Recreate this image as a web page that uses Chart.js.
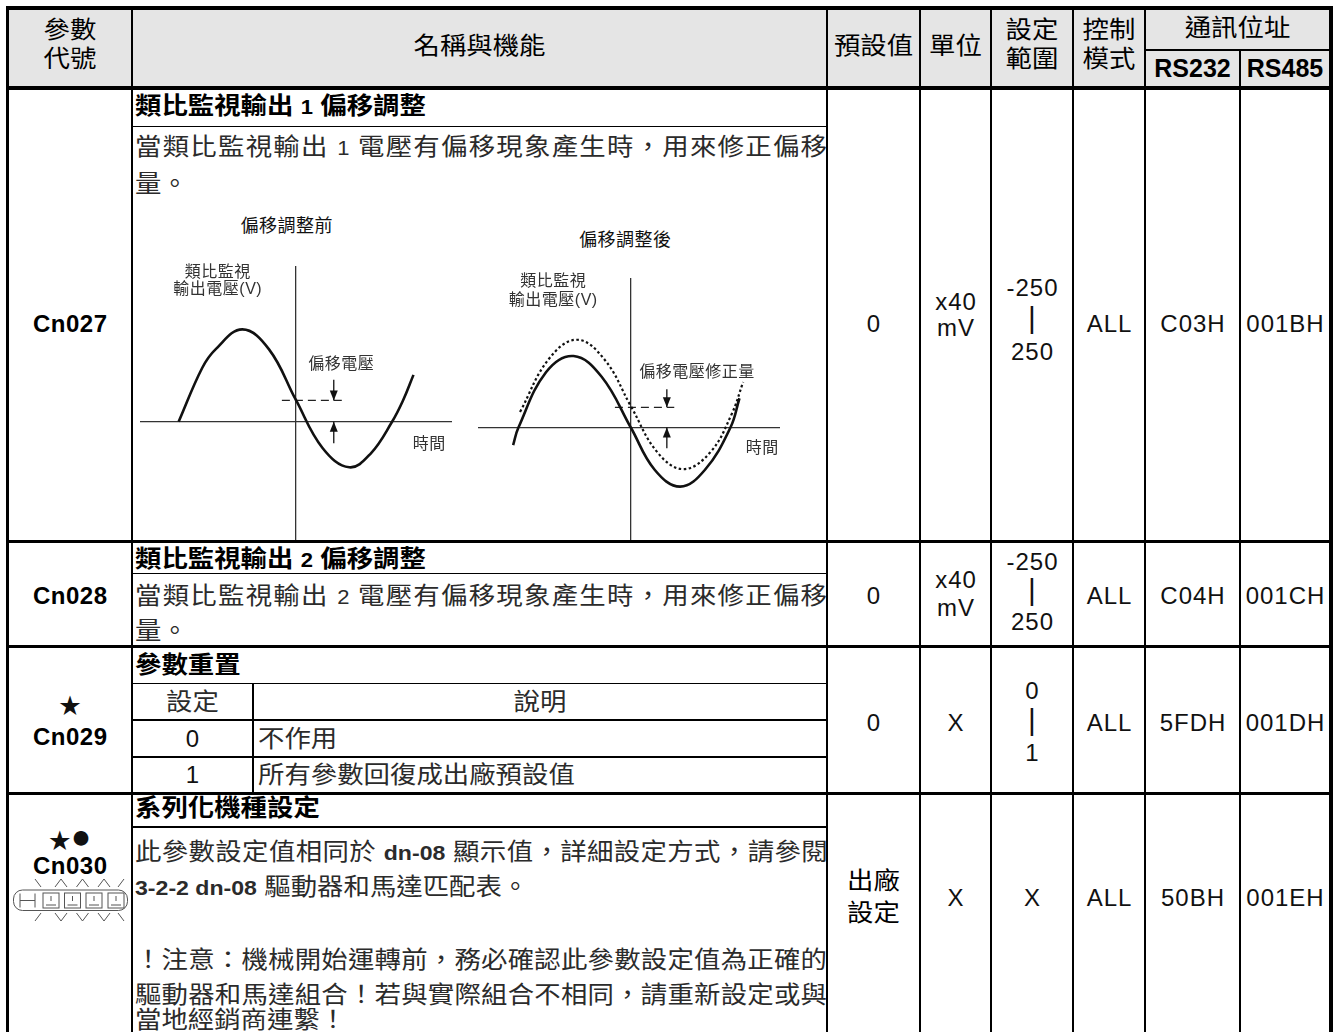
<!DOCTYPE html>
<html lang="zh-Hant">
<head>
<meta charset="UTF-8">
<title>Cn027 ~ Cn030 參數說明</title>
<script src="https://cdn.jsdelivr.net/npm/chart.js@4.4.1/dist/chart.umd.min.js"></script>
<style>
  body { margin: 0; background: #fff; }
  #page {
    position: relative;
    width: 1343px;
    height: 1032px;
    overflow: hidden;
    font-family: "Liberation Sans", "Noto Sans CJK TC", sans-serif;
    color: #111;
  }
  .head-bg { position: absolute; left: 9px; top: 10px; width: 1320px; height: 76px; background: #e5e5e5; }
  .ln { position: absolute; background: #000; z-index: 3; }
  .tx { position: absolute; white-space: nowrap; font-size: 24px; z-index: 2; box-sizing: border-box; }
  .hd { color: #000; }
  .rs { font-weight: bold; font-size: 25px; color: #000; }
  .num { letter-spacing: 1px; padding-left: 1px; }
  .code { font-weight: bold; letter-spacing: 0.5px; padding-left: 0.5px; color: #000; }
  .body { color: #2b2b2b; }
  .ttl { font-weight: bold; color: #000; }
  .jst { text-align-last: justify; }
  .tight { letter-spacing: -0.6px; }
  .la { font-size: 20px; letter-spacing: 0; }
  .lb { font-size: 21px; letter-spacing: 0; }
  .bar { font-size: 30px; }
  .cap { font-size: 18px; color: #111; letter-spacing: 0.5px; padding-left: 0.5px; }
  .sm { font-size: 16px; color: #333; letter-spacing: 0.5px; padding-left: 0.5px; }
  .star { font-size: 22px; }
  .dot { font-size: 34px; }
  canvas { position: absolute; z-index: 1; }
  svg { position: absolute; z-index: 2; }
</style>
</head>
<body>
<div id="page">
  <div class="head-bg"></div>
  <canvas id="before" width="312" height="275" style="left:140px;top:266px"></canvas>
  <canvas id="after" width="302" height="263" style="left:478px;top:278px"></canvas>
  <svg width="120" height="50" style="left:12px;top:875px" fill="none" stroke="#555" stroke-width="1">
    <rect x="1.5" y="15" width="114" height="20.5" rx="9"/>
    <path d="M8 18.5v14M23 18.5v14M8 25.5h15"/>
    <rect x="31" y="18" width="16" height="15"/><path d="M34 30h10M39 21v5"/>
    <rect x="52.5" y="18" width="16" height="15"/><path d="M55.5 30h10M60.5 21v5"/>
    <rect x="74" y="18" width="16" height="15"/><path d="M77 30h10M82 21v5"/>
    <rect x="96" y="18" width="16" height="15"/><path d="M99 30h10M104 21v5"/>
    <path d="M23 4l6 8M43 12l6-8l6 8M64.5 12l6-8l6 8M86 12l6-8l6 8M106 12l6-8"/>
    <path d="M23 46l6-8M43 38l6 8l6-8M64.5 38l6 8l6-8M86 38l6 8l6-8M106 38l6 8"/>
  </svg>
</div>
<script>
// 偏移調整前：時間（四分之一週期）與電壓（振幅）
const beforeTime = [-2.19, -1.75, -1.5, -1.0, -0.5, 0, 0.5, 1.0, 1.4, 1.8, 2.0, 2.2];
const beforeVolt = [0, 0.78, 1.05, 1.34, 1.05, 0.32, -0.38, -0.66, -0.46, 0, 0.3, 0.68];
const beforeOffsetTime = [-0.26, 0.86];
const beforeOffsetVolt = [0.31, 0.31];
const beforeArrowTime = 0.71;
const beforeArrowDown = [0.61, 0.31];
const beforeArrowUp = [-0.31, 0];

// 偏移調整後：實線為修正後，虛線為修正前
const afterTime = [-2.22, -2.12, -1.6, -1.08, -0.55, 0, 0.45, 0.93, 1.4, 1.88, 2.05];
const afterVolt = [-0.27, 0, 0.85, 1.10, 0.78, 0, -0.65, -0.91, -0.65, 0, 0.45];
const rawTime = [-2.09, -1.55, -1.02, -0.5, 0, 0.5, 0.99, 1.5, 1.9, 2.12];
const rawVolt = [0.24, 1.05, 1.35, 1.05, 0.33, -0.38, -0.64, -0.38, 0.2, 0.70];
const afterOffsetTime = [-0.3, 0.82];
const afterOffsetVolt = [0.31, 0.31];
const afterArrowTime = 0.68;
const afterArrowDown = [0.59, 0.31];
const afterArrowUp = [-0.32, 0];

// 表格內容
const codes = ['Cn027', 'Cn028', 'Cn029', 'Cn030'];
const defVals = [['0'], ['0'], ['0'], ['出廠', '設定']];
const units = [['x40', 'mV'], ['x40', 'mV'], ['X'], ['X']];
const ranges = [['-250', '|', '250'], ['-250', '|', '250'], ['0', '|', '1'], ['X']];
const modes = ['ALL', 'ALL', 'ALL', 'ALL'];
const rs232 = ['C03H', 'C04H', '5FDH', '50BH'];
const rs485 = ['001BH', '001CH', '001DH', '001EH'];

const page = document.getElementById('page');
const colL = [9, 133, 828, 921, 992, 1074, 1146, 1241];
const colR = [131, 826, 919, 990, 1072, 1144, 1239, 1329];
const rowMid = [324, 596, 723, 898];
const unitMid = [315, 594, 723, 898], unitGap = [26, 28, 0, 0];
const rangeMid = [320, 592, 722, 898], rangeGap = [32, 30, 31, 0];
const SX = 1.1;   // 原圖文字略為橫向拉寬

function line(x, y, w, h) {
  const d = document.createElement('div');
  d.className = 'ln';
  d.style.cssText = `left:${x}px;top:${y}px;width:${w}px;height:${h}px`;
  page.appendChild(d);
}
function put(html, left, cy, width, cls, align, h, sx) {
  h = h || 30;
  align = align || 'center';
  sx = sx || 1;
  const d = document.createElement('div');
  d.className = 'tx ' + (cls || '');
  const w = align === 'center' ? width : width / sx;
  d.style.cssText = `left:${left}px;top:${cy - h / 2}px;width:${w}px;height:${h}px;line-height:${h}px;text-align:${align}`;
  if (sx !== 1) {
    d.style.transform = `scaleX(${sx})`;
    d.style.transformOrigin = align === 'center' ? 'center' : 'left center';
  }
  d.innerHTML = html;
  page.appendChild(d);
}
// 中文字串：拉寬
const zh = (html, left, cy, width, cls, align) => put(html, left, cy, width, cls, align, 30, SX);

function col(c, lines, cy, gap, cls, sx) {
  const n = lines.length;
  lines.forEach((s, i) => {
    const isBar = s === '|';
    put(s, colL[c], cy + (i - (n - 1) / 2) * gap + (isBar ? -2 : 0), colR[c] - colL[c],
        cls + (isBar ? ' bar' : ''), 'center', isBar ? 24 : 30, sx);
  });
}

// 框線
line(6, 6, 1327, 4);
line(6, 6, 3, 1026);
line(1329, 6, 4, 1026);
line(6, 86, 1327, 4);
line(1146, 49, 183, 1.7);
[540, 645, 792].forEach(y => line(6, y, 1327, 2.5));
[131, 826, 919, 990, 1072, 1144].forEach(x => line(x, 10, 2.2, 1022));
line(1239, 49, 2.2, 983);
[125.5, 572.5, 682.5, 719, 756, 826].forEach(y => line(133, y, 693, 1.6));
line(252, 683, 2, 110);

// 表頭
zh('參數', 9, 30, 122, 'hd');
zh('代號', 9, 59, 122, 'hd');
zh('名稱與機能', 133, 46, 693, 'hd');
zh('預設值', 828, 46, 91, 'hd');
zh('單位', 921, 46, 69, 'hd');
zh('設定', 992, 30, 80, 'hd');
zh('範圍', 992, 59, 80, 'hd');
zh('控制', 1074, 30, 70, 'hd');
zh('模式', 1074, 59, 70, 'hd');
zh('通訊位址', 1146, 28, 183, 'hd');
put('RS232', 1146, 68, 93, 'rs');
put('RS485', 1241, 68, 88, 'rs');

// 參數代號欄
put(codes[0], 9, rowMid[0], 122, 'code');
put(codes[1], 9, rowMid[1], 122, 'code');
put('★', 9, 706, 122, 'star');
put(codes[2], 9, 737, 122, 'code');
put('<span class="star">★</span><span class="dot">●</span>', 9, 836, 122, '', 'center', 26);
put(codes[3], 9, 866, 122, 'code');

// 數值欄
codes.forEach((c, r) => {
  if (defVals[r].length > 1) col(2, defVals[r], rowMid[r] - 1, 32, 'hd', SX);
  else col(2, defVals[r], rowMid[r], 0, 'num');
  col(3, units[r], unitMid[r], unitGap[r], 'num');
  col(4, ranges[r], rangeMid[r], rangeGap[r], 'num');
  col(5, [modes[r]], rowMid[r], 0, 'num');
  col(6, [rs232[r]], rowMid[r], 0, 'num');
  col(7, [rs485[r]], rowMid[r], 0, 'num');
});

// 名稱與機能
zh('類比監視輸出 <span class="la">1</span> 偏移調整', 135, 106, 600, 'body ttl', 'left');
zh('當類比監視輸出 <span class="la">1</span> 電壓有偏移現象產生時，用來修正偏移', 135, 146.5, 692, 'body jst', 'justify');
zh('量。', 135, 183.5, 300, 'body', 'left');

zh('類比監視輸出 <span class="la">2</span> 偏移調整', 135, 558.5, 600, 'body ttl', 'left');
zh('當類比監視輸出 <span class="la">2</span> 電壓有偏移現象產生時，用來修正偏移', 135, 596, 692, 'body jst', 'justify');
zh('量。', 135, 631, 300, 'body', 'left');

zh('參數重置', 135, 665, 400, 'body ttl', 'left');
zh('設定', 133, 701.5, 119, 'body', 'center');
zh('說明', 254, 701.5, 572, 'body', 'center');
put('0', 133, 738.5, 119, 'num', 'center');
zh('不作用', 258, 738.5, 400, 'body', 'left');
put('1', 133, 775, 119, 'num', 'center');
zh('所有參數回復成出廠預設值', 258, 775, 500, 'body', 'left');

zh('系列化機種設定', 135, 808, 400, 'body ttl', 'left');
zh('此參數設定值相同於 <b class="lb">dn-08</b> 顯示值，詳細設定方式，請參閱', 135, 851.5, 692, 'body jst tight', 'justify');
zh('<b class="lb">3-2-2 dn-08</b> 驅動器和馬達匹配表。', 135, 886.7, 600, 'body', 'left');
zh('！注意：機械開始運轉前，務必確認此參數設定值為正確的', 135, 960, 692, 'body jst', 'justify');
zh('驅動器和馬達組合！若與實際組合不相同，請重新設定或與', 135, 995, 692, 'body jst', 'justify');
zh('當地經銷商連繫！', 135, 1020, 400, 'body', 'left');

// 圖內文字
put('偏移調整前', 206.5, 226, 160, 'cap', 'center', 24);
put('類比監視', 137.5, 272, 160, 'sm', 'center', 22);
put('輸出電壓(V)', 137.5, 289, 160, 'sm', 'center', 22);
put('偏移電壓', 261, 364, 160, 'sm', 'center', 22);
put('時間', 349, 444, 160, 'sm', 'center', 22);
put('偏移調整後', 545, 240, 160, 'cap', 'center', 24);
put('類比監視', 473, 280.5, 160, 'sm', 'center', 22);
put('輸出電壓(V)', 473, 300, 160, 'sm', 'center', 22);
put('偏移電壓修正量', 616.7, 371.5, 160, 'sm', 'center', 22);
put('時間', 682, 447.5, 160, 'sm', 'center', 22);

// 箭頭
const arrowHeads = {
  id: 'arrowHeads',
  afterDatasetsDraw(chart) {
    const ctx = chart.ctx;
    chart.data.datasets.forEach((ds, i) => {
      if (!ds.arrow) return;
      const pts = chart.getDatasetMeta(i).data;
      const a = pts[pts.length - 2], b = pts[pts.length - 1];
      const ang = Math.atan2(b.y - a.y, b.x - a.x);
      ctx.save();
      ctx.fillStyle = ds.borderColor;
      ctx.translate(b.x, b.y);
      ctx.rotate(ang);
      ctx.beginPath();
      ctx.moveTo(0, 0);
      ctx.lineTo(-10, -4);
      ctx.lineTo(-10, 4);
      ctx.closePath();
      ctx.fill();
      ctx.restore();
    });
  }
};

const pts = (t, v) => t.map((x, i) => ({ x: x, y: v[i] }));
const vert = (t, v) => v.map(y => ({ x: t, y: y }));

function curve(t, v, extra) {
  return Object.assign({ data: pts(t, v), borderColor: '#111', borderWidth: 2.6, tension: 0.4, fill: false }, extra || {});
}
function dashed(t, v) {
  return { data: pts(t, v), borderColor: '#222', borderWidth: 1.3, borderDash: [8, 5] };
}
function arrow(t, v) {
  return { data: vert(t, v), borderColor: '#111', borderWidth: 1.3, arrow: true };
}

function offsetChart(id, xr, yr, sets) {
  const axis = (range, pos) => ({
    type: 'linear', min: range[0], max: range[1], position: pos,
    ticks: { display: false }, grid: { display: false },
    border: { color: '#333', width: 1.3 }
  });
  return new Chart(document.getElementById(id), {
    type: 'line',
    data: { datasets: sets },
    options: {
      responsive: false,
      animation: false,
      events: [],
      layout: { padding: 0 },
      elements: { point: { radius: 0 } },
      plugins: { legend: { display: false }, tooltip: { enabled: false } },
      scales: { x: axis(xr, { y: 0 }), y: axis(yr, { x: 0 }) }
    },
    plugins: [arrowHeads]
  });
}

offsetChart('before', [-2.912, 2.92], [-1.728, 2.258], [
  curve(beforeTime, beforeVolt),
  dashed(beforeOffsetTime, beforeOffsetVolt),
  arrow(beforeArrowTime, beforeArrowDown),
  arrow(beforeArrowTime, beforeArrowUp)
]);

offsetChart('after', [-2.883, 2.815], [-1.746, 2.3], [
  curve(rawTime, rawVolt, { borderWidth: 2.2, borderDash: [2.5, 2.5] }),
  curve(afterTime, afterVolt),
  dashed(afterOffsetTime, afterOffsetVolt),
  arrow(afterArrowTime, afterArrowDown),
  arrow(afterArrowTime, afterArrowUp)
]);
</script>
</body>
</html>
